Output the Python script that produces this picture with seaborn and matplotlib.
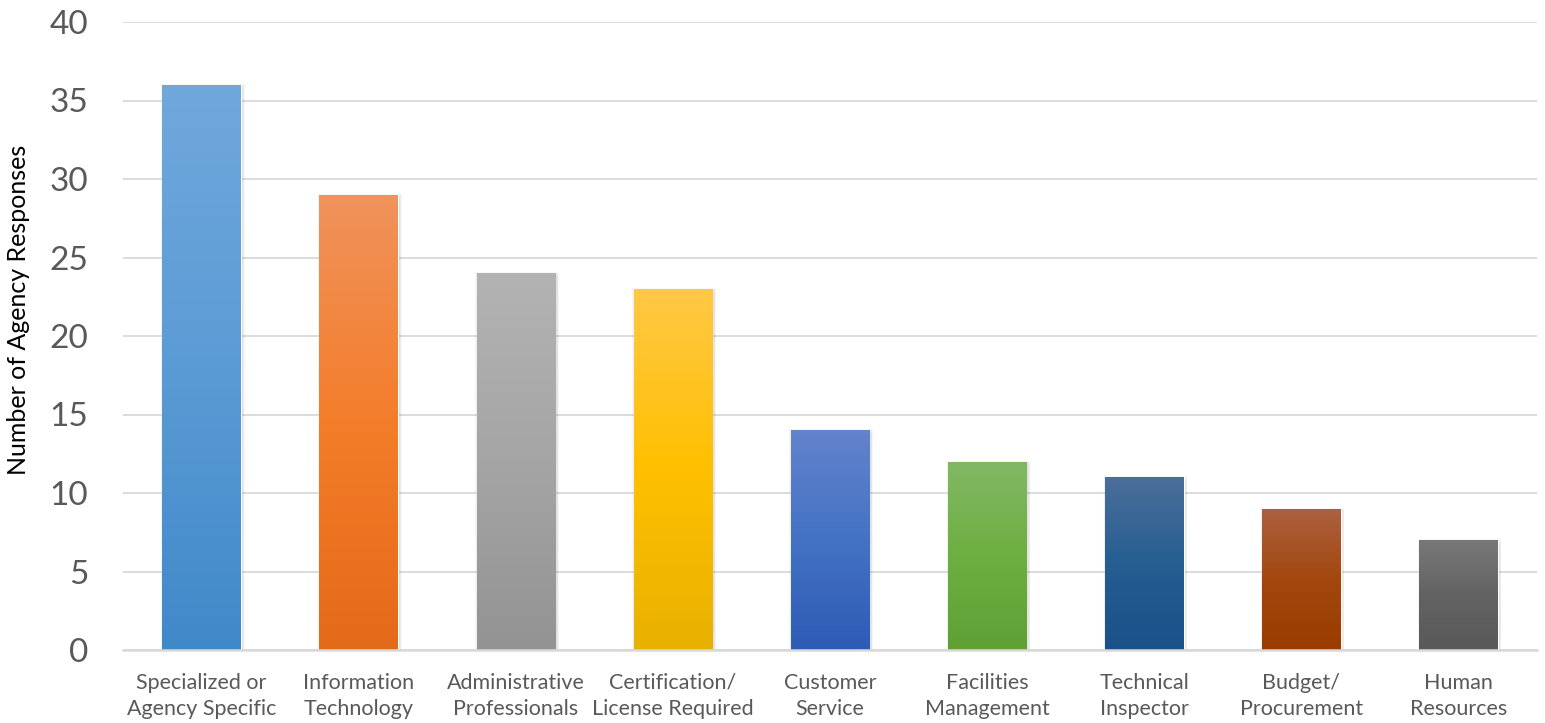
import numpy as np
import pandas as pd
import matplotlib
matplotlib.use("Agg")
import matplotlib.pyplot as plt
import seaborn as sns
from matplotlib.colors import LinearSegmentedColormap
from matplotlib.patches import Rectangle

categories = ["Specialized or\nAgency Specific", "Information\nTechnology",
              "Administrative\nProfessionals", "Certification/\nLicense Required",
              "Customer\nService", "Facilities\nManagement", "Technical\nInspector",
              "Budget/\nProcurement", "Human\nResources"]
responses = [36, 29, 24, 23, 14, 12, 11, 9, 7]
top_colors = ["#70a8dc", "#f0935c", "#b3b3b3", "#ffc846", "#6383cc",
              "#82b865", "#4b6e9a", "#ac6141", "#787878"]
mid_colors = ["#5b9bd5", "#f47d2a", "#a5a5a5", "#ffc000", "#4472c4",
              "#6daf40", "#255e91", "#a3470f", "#636363"]
bottom_colors = ["#4089c9", "#e36a18", "#939393", "#e8b100", "#2e5bb5",
                 "#5fa035", "#1a5189", "#9a3c00", "#595959"]
yticks = [0, 5, 10, 15, 20, 25, 30, 35, 40]

sns.set_theme(style="white")
plt.rcParams['font.family'] = ['Lato', 'DejaVu Sans']

fig = plt.figure(figsize=(15.45, 7.23), dpi=100)
ax = fig.add_axes([123/1545, 1-650/723, 1414/1545, 628/723])

df = pd.DataFrame({"category": categories, "responses": responses})
sns.barplot(data=df, x="category", y="responses", hue="category",
            palette=mid_colors, width=0.5, legend=False, ax=ax,
            saturation=1, zorder=3)

ax.set_xlim(-0.5, len(categories) - 0.5)
ax.set_ylim(0, 40)
ax.set_yticks(yticks)
ax.set_xlabel("")
ax.set_ylabel("")

# gradient fills + soft shadow
for i, patch in enumerate(ax.patches):
    x0, y0 = patch.get_x(), patch.get_y()
    w, h = patch.get_width(), patch.get_height()
    cmap = LinearSegmentedColormap.from_list(
        f"g{i}", [bottom_colors[i], mid_colors[i], top_colors[i]])
    grad = np.linspace(0, 1, 256).reshape(-1, 1)
    im = ax.imshow(grad, cmap=cmap, aspect="auto", origin="lower",
                   extent=[x0, x0 + w, y0, y0 + h], zorder=4)
    im.set_clip_path(patch)
    for k in range(1, 5):
        dx = 0.004 * k
        dy = 0.08 * k
        sh = Rectangle((x0 - dx + 0.008, y0), w + 2 * dx, h + dy - 0.25,
                       facecolor="black", alpha=0.035, edgecolor="none",
                       zorder=2)
        ax.add_patch(sh)

ax.set_xlim(-0.5, len(categories) - 0.5)
ax.set_ylim(0, 40)

ax.yaxis.grid(True, color="#d9d9d9", linewidth=1.3, zorder=0)
ax.xaxis.grid(False)
ax.set_axisbelow(True)
for s in ["top", "right", "left"]:
    ax.spines[s].set_visible(False)
ax.spines["bottom"].set_color("#d9d9d9")
ax.spines["bottom"].set_linewidth(1.8)
ax.spines["bottom"].set_zorder(5)

ax.tick_params(axis="y", length=0, pad=25, labelsize=24, labelcolor="#595959")
ax.tick_params(axis="x", length=0, pad=16.5, labelsize=15.5, labelcolor="#595959")
for lbl in ax.get_xticklabels():
    lbl.set_linespacing(1.36)

fig.text(19/1545, 1 - 310/723, "Number of Agency Responses", rotation=90,
         ha="center", va="center", fontsize=18, color="black")

fig.savefig("out.png", dpi=100, facecolor="white")
